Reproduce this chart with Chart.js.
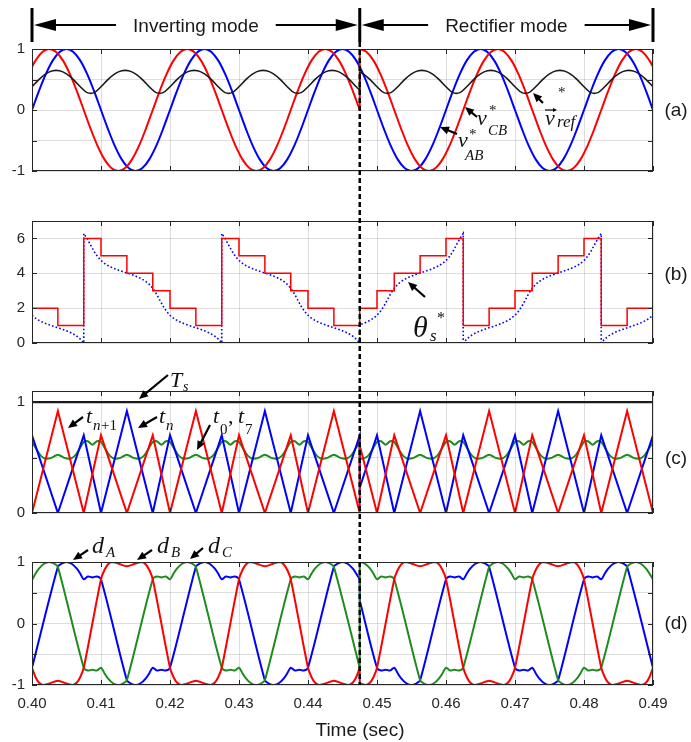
<!DOCTYPE html>
<html><head><meta charset="utf-8">
<script src="https://cdn.jsdelivr.net/npm/chart.js@4.4.1/dist/chart.umd.min.js"></script>
<style>
html,body{margin:0;padding:0;background:#fff}
#wrap{position:relative;width:691px;height:742px;overflow:hidden;background:#fff}
canvas{position:absolute;left:0}
#ov{position:absolute;left:0;top:0;z-index:5}
</style></head><body><div id="wrap">
<canvas id="cA" width="691" height="142" style="top:39px;width:691px;height:142px"></canvas>
<canvas id="cB" width="691" height="142" style="top:210px;width:691px;height:142px"></canvas>
<canvas id="cC" width="691" height="142" style="top:381px;width:691px;height:142px"></canvas>
<canvas id="cD" width="691" height="178" style="top:552px;width:691px;height:178px"></canvas>
<svg id="ov" width="691" height="742" xmlns="http://www.w3.org/2000/svg"></svg>
</div>
<script>
// ---------- axis ticks (time in ms after 0.40 s) ----------
const xTickVals = [0,10,20,30,40,50,60,70,80,90];
const xTickLabels = ['0.40','0.41','0.42','0.43','0.44','0.45','0.46','0.47','0.48','0.49'];
const switchMs = 47.5;
const aYTicks = [-1,-0.5,0,0.5,1], aYLabels = [-1,0,1];
const bYTicks = [0,2,4,6],        bYLabels = [0,2,4,6];
const cYTicks = [0,0.5,1],        cYLabels = [0,1];
const dYTicks = [-1,-0.5,0,0.5,1], dYLabels = [-1,0,1];

// ---------- panel (a) ----------
const aBlueT = [0,1,2,3,4,5,6,7,8,9,10,11,12,13,14,15,16,17,18,19,20,21,22,23,24,25,26,27,28,29,30,31,32,33,34,35,36,37,38,39,40,41,42,43,44,45,46,47,48,49,50,51,52,53,54,55,56,57,58,59,60,61,62,63,64,65,66,67,68,69,70,71,72,73,74,75,76,77,78,79,80,81,82,83,84,85,86,87,88,89,90];
const aBlueV = [0,.309,.588,.809,.951,1,.951,.809,.588,.309,0,-.309,-.588,-.809,-.951,-1,-.951,-.809,-.588,-.309,
 0,.309,.588,.809,.951,1,.951,.809,.588,.309,0,-.309,-.588,-.809,-.951,-1,-.951,-.809,-.588,-.309,
 0,.309,.588,.809,.951,1,.951,.809,.588,.309,0,-.309,-.588,-.809,-.951,-1,-.951,-.809,-.588,-.309,
 0,.309,.588,.809,.951,1,.951,.809,.588,.309,0,-.309,-.588,-.809,-.951,-1,-.951,-.809,-.588,-.309,
 0,.309,.588,.809,.951,1,.951,.809,.588,.309,0];
const aRedT = [0,0.5,1.5,2.5,3.5,4.5,5.5,6.5,7.5,8.5,9.5,10.5,11.5,12.5,13.5,14.5,15.5,16.5,17.5,18.5,19.5,20.5,21.5,22.5,23.5,24.5,25.5,26.5,27.5,28.5,29.5,30.5,31.5,32.5,33.5,34.5,35.5,36.5,37.5,38.5,39.5,40.5,41.5,42.5,43.5,44.5,45.5,46.5,47.5,
 47.5,48.5,49.5,50.5,51.5,52.5,53.5,54.5,55.5,56.5,57.5,58.5,59.5,60.5,61.5,62.5,63.5,64.5,65.5,66.5,67.5,68.5,69.5,70.5,71.5,72.5,73.5,74.5,75.5,76.5,77.5,78.5,79.5,80.5,81.5,82.5,83.5,84.5,85.5,86.5,87.5,88.5,89.5,90];
const aRedV = [.707,
 .809,.951,1,.951,.809,.588,.309,0,-.309,-.588,-.809,-.951,-1,-.951,-.809,-.588,-.309,0,.309,.588,
 .809,.951,1,.951,.809,.588,.309,0,-.309,-.588,-.809,-.951,-1,-.951,-.809,-.588,-.309,0,.309,.588,
 .809,.951,1,.951,.809,.588,.309,0,
 1,.951,.809,.588,.309,0,-.309,-.588,-.809,-.951,-1,-.951,-.809,-.588,-.309,0,.309,.588,.809,.951,
 1,.951,.809,.588,.309,0,-.309,-.588,-.809,-.951,-1,-.951,-.809,-.588,-.309,0,.309,.588,.809,.951,
 1,.951,.809,.707];
const aBlackT = [0,1,2,3,4,5,6,7,8,9,10,11,12,13,14,15,16,17,18,19,20,21,22,23,24,25,26,27,28,29,30,31,32,33,34,35,36,37,38,39,40,41,42,43,44,45,46,47,47.5,
 47.5,48,49,50,51,52,53,54,55,56,57,58,59,60,61,62,63,64,65,66,67,68,69,70,71,72,73,74,75,76,77,78,79,80,81,82,83,84,85,86,87,88,89,90];
const aBlackV = [.381,.498,.592,.643,.643,.592,.498,.381,.285,.285,
 .381,.498,.592,.643,.643,.592,.498,.381,.285,.285,
 .381,.498,.592,.643,.643,.592,.498,.381,.285,.285,
 .381,.498,.592,.643,.643,.592,.498,.381,.285,.285,
 .381,.498,.592,.643,.643,.592,.498,.381,.326,
 .624,.592,.498,
 .381,.285,.285,.381,.498,.592,.643,.643,.592,.498,
 .381,.285,.285,.381,.498,.592,.643,.643,.592,.498,
 .381,.285,.285,.381,.498,.592,.643,.643,.592,.498,
 .381,.285,.285,.381,.498,.592,.643,.643,.592,.498,
 .381];

// ---------- panel (b) ----------
const bSectorT = [0,0,3.75,7.5,10,13.75,17.5,20,23.75,27.5,30,33.75,37.5,40,43.75,47.5,50,52.5,56.25,60,62.5,66.25,70,72.5,76.25,80,82.5,86.25,90,90];
const bSectorV = [3,2,1,6,5,4,3,2,1,6,5,4,3,2,1,2,3,4,5,6,1,2,3,4,5,6,1,2,2,3];
const bThetaT = [0,0.5,1,1.5,2,2.5,3,3.5,4,4.5,5,5.5,6,6.5,7,7.5,
 7.5,8,8.5,9,9.5,10,10.5,11,11.5,12,12.5,13,13.5,14,14.5,15,15.5,16,16.5,17,17.5,18,18.5,19,19.5,20,20.5,21,21.5,22,22.5,23,23.5,24,24.5,25,25.5,26,26.5,27,27.5,
 27.5,28,28.5,29,29.5,30,30.5,31,31.5,32,32.5,33,33.5,34,34.5,35,35.5,36,36.5,37,37.5,38,38.5,39,39.5,40,40.5,41,41.5,42,42.5,43,43.5,44,44.5,45,45.5,46,46.5,47,47.5,
 47.5,48,48.5,49,49.5,50,50.5,51,51.5,52,52.5,53,53.5,54,54.5,55,55.5,56,56.5,57,57.5,58,58.5,59,59.5,60,60.5,61,61.5,62,62.5,
 62.5,63,63.5,64,64.5,65,65.5,66,66.5,67,67.5,68,68.5,69,69.5,70,70.5,71,71.5,72,72.5,73,73.5,74,74.5,75,75.5,76,76.5,77,77.5,78,78.5,79,79.5,80,80.5,81,81.5,82,82.5,
 82.5,83,83.5,84,84.5,85,85.5,86,86.5,87,87.5,88,88.5,89,89.5,90];
const bThetaV = [1.591,1.426,1.301,1.200,1.116,1.041,0.973,0.907,0.841,0.773,0.698,0.614,0.513,0.388,0.223,0,
 6.283,5.984,5.619,5.255,4.956,4.733,4.568,4.442,4.342,4.257,4.183,4.114,4.049,3.983,3.914,3.840,3.756,3.655,3.529,3.365,3.142,2.842,2.478,2.114,1.814,1.591,1.426,1.301,1.200,1.116,1.041,0.973,0.907,0.841,0.773,0.698,0.614,0.513,0.388,0.223,0,
 6.283,5.984,5.619,5.255,4.956,4.733,4.568,4.442,4.342,4.257,4.183,4.114,4.049,3.983,3.914,3.840,3.756,3.655,3.529,3.365,3.142,2.842,2.478,2.114,1.814,1.591,1.426,1.301,1.200,1.116,1.041,0.973,0.907,0.841,0.773,0.698,0.614,0.513,0.388,0.223,0,
 1.041,1.116,1.200,1.301,1.426,1.591,1.814,2.114,2.478,2.842,3.142,3.365,3.529,3.655,3.756,3.840,3.914,3.983,4.049,4.114,4.183,4.257,4.342,4.442,4.568,4.733,4.956,5.255,5.619,5.984,6.283,
 0,0.223,0.388,0.513,0.614,0.698,0.773,0.841,0.907,0.973,1.041,1.116,1.200,1.301,1.426,1.591,1.814,2.114,2.478,2.842,3.142,3.365,3.529,3.655,3.756,3.840,3.914,3.983,4.049,4.114,4.183,4.257,4.342,4.442,4.568,4.733,4.956,5.255,5.619,5.984,6.283,
 0,0.223,0.388,0.513,0.614,0.698,0.773,0.841,0.907,0.973,1.041,1.116,1.200,1.301,1.426,1.591];

// ---------- panel (c) ----------
const cTsT = [0,90], cTsV = [1,1];
const cTriT = [0,3.75,7.5,10,13.75,17.5,20,23.75,27.5,30,33.75,37.5,40,43.75,47.5,47.5,50,52.5,56.25,60,62.5,66.25,70,72.5,76.25,80,82.5,86.25,90];
const cRedV  = [0,.92,0,.70,0,.70,0,.92,0,.70,0,.70,0,.92,0, .61,0,.70,0,.70,0,.92,0,.70,0,.70,0,.92,0];
const cBlueV = [.70,0,.70,0,.92,0,.70,0,.70,0,.92,0,.70,0,.70, .23,.70,0,.92,0,.70,0,.70,0,.92,0,.70,0,.70];
const cGreenT = [0,0.7,1.3,2,2.8,3.75,4.7,5.5,6.2,6.8,
 7.5,8.1,8.75,9.4,10,10.7,11.3,12,12.8,13.75,14.7,15.5,16.2,16.8,
 17.5,18.1,18.75,19.4,20,20.7,21.3,22,22.8,23.75,24.7,25.5,26.2,26.8,
 27.5,28.1,28.75,29.4,30,30.7,31.3,32,32.8,33.75,34.7,35.5,36.2,36.8,
 37.5,38.1,38.75,39.4,40,40.7,41.3,42,42.8,43.75,44.7,45.5,46.2,46.8,47.5,
 47.5,48,48.7,49.3,
 50,50.6,51.25,51.9,52.5,53.2,53.8,54.5,55.3,56.25,57.2,58,58.7,59.3,
 60,60.6,61.25,61.9,62.5,63.2,63.8,64.5,65.3,66.25,67.2,68,68.7,69.3,
 70,70.6,71.25,71.9,72.5,73.2,73.8,74.5,75.3,76.25,77.2,78,78.7,79.3,
 80,80.6,81.25,81.9,82.5,83.2,83.8,84.5,85.3,86.25,87.2,88,88.7,89.3,90];
const cGreenV = [.64,.57,.515,.49,.497,.525,.497,.49,.515,.57,
 .64,.647,.615,.647,.64,.57,.515,.49,.497,.525,.497,.49,.515,.57,
 .64,.647,.615,.647,.64,.57,.515,.49,.497,.525,.497,.49,.515,.57,
 .64,.647,.615,.647,.64,.57,.515,.49,.497,.525,.497,.49,.515,.57,
 .64,.647,.615,.647,.64,.57,.515,.49,.497,.525,.497,.49,.515,.57,.64,
 .494,.49,.515,.57,
 .64,.647,.615,.647,.64,.57,.515,.49,.497,.525,.497,.49,.515,.57,
 .64,.647,.615,.647,.64,.57,.515,.49,.497,.525,.497,.49,.515,.57,
 .64,.647,.615,.647,.64,.57,.515,.49,.497,.525,.497,.49,.515,.57,
 .64,.647,.615,.647,.64,.57,.515,.49,.497,.525,.497,.49,.515,.57,.64];

// ---------- panel (d) ----------
const dAT = [0,3.75,4.25,5,5.75,6.5,7,7.5,8.1,8.75,9.4,10,13.75,14.25,15,15.75,16.5,17,17.5,18.1,18.75,19.4,20,
 23.75,24.25,25,25.75,26.5,27,27.5,28.1,28.75,29.4,30,33.75,34.25,35,35.75,36.5,37,37.5,38.1,38.75,39.4,40,
 43.75,44.25,45,45.75,46.5,47,47.5,
 47.5,50,50.6,51.25,51.9,52.5,53,53.5,54.25,55,55.75,56.25,60,60.6,61.25,61.9,62.5,63,63.5,64.25,65,65.75,66.25,
 70,70.6,71.25,71.9,72.5,73,73.5,74.25,75,75.75,76.25,80,80.6,81.25,81.9,82.5,83,83.5,84.25,85,85.75,86.25,90];
const dAV = [-.72,.924,.972,1,.972,.891,.809,.72,.765,.75,.765,.72,-.924,-.972,-1,-.972,-.891,-.809,-.72,-.765,-.75,-.765,-.72,
 .924,.972,1,.972,.891,.809,.72,.765,.75,.765,.72,-.924,-.972,-1,-.972,-.891,-.809,-.72,-.765,-.75,-.765,-.72,
 .924,.972,1,.972,.891,.809,.72,
 .376,-.72,-.765,-.75,-.765,-.72,-.809,-.891,-.972,-1,-.972,-.924,.72,.765,.75,.765,.72,.809,.891,.972,1,.972,.924,
 -.72,-.765,-.75,-.765,-.72,-.809,-.891,-.972,-1,-.972,-.924,.72,.765,.75,.765,.72,.809,.891,.972,1,.972,.924,-.72];
const dBT = [0,0.5,1,1.6,2.5,3.75,5,5.9,6.5,7,7.5, 10,10.5,11,11.6,12.5,13.75,15,15.9,16.5,17,17.5,
 20,20.5,21,21.6,22.5,23.75,25,25.9,26.5,27,27.5, 30,30.5,31,31.6,32.5,33.75,35,35.9,36.5,37,37.5,
 40,40.5,41,41.6,42.5,43.75,45,45.9,46.5,47,47.5,
 47.5,48.4,49,49.5,50, 52.5,53,53.5,54.1,55,56.25,57.5,58.4,59,59.5,60,
 62.5,63,63.5,64.1,65,66.25,67.5,68.4,69,69.5,70, 72.5,73,73.5,74.1,75,76.25,77.5,78.4,79,79.5,80,
 82.5,83,83.5,84.1,85,86.25,87.5,88.4,89,89.5,90];
const dBV = [-.72,-.87,-.96,-1,-.975,-.93,-.975,-1,-.96,-.87,-.72, .72,.87,.96,1,.975,.93,.975,1,.96,.87,.72,
 -.72,-.87,-.96,-1,-.975,-.93,-.975,-1,-.96,-.87,-.72, .72,.87,.96,1,.975,.93,.975,1,.96,.87,.72,
 -.72,-.87,-.96,-1,-.975,-.93,-.975,-1,-.96,-.87,-.72,
 -.975,-1,-.96,-.87,-.72, .72,.87,.96,1,.975,.93,.975,1,.96,.87,.72,
 -.72,-.87,-.96,-1,-.975,-.93,-.975,-1,-.96,-.87,-.72, .72,.87,.96,1,.975,.93,.975,1,.96,.87,.72,
 -.72,-.87,-.96,-1,-.975,-.93,-.975,-1,-.96,-.87,-.72];
const dCT = [0,0.5,1,1.75,2.5,3.25,3.75, 7.5,8.1,8.75,9.4,10,10.5,11,11.75,12.5,13.25,13.75,
 17.5,18.1,18.75,19.4,20,20.5,21,21.75,22.5,23.25,23.75, 27.5,28.1,28.75,29.4,30,30.5,31,31.75,32.5,33.25,33.75,
 37.5,38.1,38.75,39.4,40,40.5,41,41.75,42.5,43.25,43.75, 47.5,
 47.5,48,48.5,49,49.5,50,50.6,51.25,51.9,52.5, 56.25,56.75,57.5,58.25,59,59.5,60,60.6,61.25,61.9,62.5,
 66.25,66.75,67.5,68.25,69,69.5,70,70.6,71.25,71.9,72.5, 76.25,76.75,77.5,78.25,79,79.5,80,80.6,81.25,81.9,82.5,
 86.25,86.75,87.5,88.25,89,89.5,90];
const dCV = [.707,.809,.891,.972,1,.972,.924, -.72,-.765,-.75,-.765,-.72,-.809,-.891,-.972,-1,-.972,-.924,
 .72,.765,.75,.765,.72,.809,.891,.972,1,.972,.924, -.72,-.765,-.75,-.765,-.72,-.809,-.891,-.972,-1,-.972,-.924,
 .72,.765,.75,.765,.72,.809,.891,.972,1,.972,.924, -.72,
 1,.988,.951,.891,.809,.72,.765,.75,.765,.72, -.924,-.972,-1,-.972,-.891,-.809,-.72,-.765,-.75,-.765,-.72,
 .924,.972,1,.972,.891,.809,.72,.765,.75,.765,.72, -.924,-.972,-1,-.972,-.891,-.809,-.72,-.765,-.75,-.765,-.72,
 .924,.972,1,.972,.891,.809,.72];

// ---------- helpers ----------
const RED='#ff0000', BLUE='#0000ff', GREEN='#1d8c1d', BLACK='#1a1a1a', GRID='rgba(0,0,0,0.13)';
function pts(T,V){ return T.map((t,i)=>({x:t,y:V[i]})); }
function segs(T,V){ const out=[]; let cur=[]; for(let i=0;i<T.length;i++){ if(i>0&&T[i]===T[i-1]){out.push(cur);cur=[];} cur.push({x:T[i],y:V[i]}); } out.push(cur); return out; }
// smooth pieces plus straight vertical joins at the mode switch
function lines(T,V,style){
  const s=segs(T,V), out=s.map(d=>Object.assign({data:d},style));
  for(let i=1;i<s.length;i++){ const p=s[i-1][s[i-1].length-1], q=s[i][0];
    out.unshift(Object.assign({},style,{tension:0,data:[{x:p.x,y:p.y},{x:q.x,y:q.y}]})); }
  return out;
}

Chart.defaults.font.family = '"Liberation Sans", Arial, sans-serif';
Chart.defaults.font.size = 15;
Chart.defaults.color = '#262626';

const boxPlugin = { id:'mbox', afterDatasetsDraw(chart){
  const {ctx, chartArea:a, scales:{x,y}} = chart;
  ctx.save(); ctx.strokeStyle='#262626'; ctx.lineWidth=1;
  ctx.strokeRect(a.left+0.5, a.top+0.5, a.right-a.left-1, a.bottom-a.top-1);
  ctx.beginPath();
  x.ticks.forEach(t=>{ const p=Math.round(x.getPixelForValue(t.value))+0.5; ctx.moveTo(p,a.top); ctx.lineTo(p,a.top+5); ctx.moveTo(p,a.bottom); ctx.lineTo(p,a.bottom-5); });
  y.ticks.forEach(t=>{ const p=Math.round(y.getPixelForValue(t.value))+0.5; ctx.moveTo(a.left,p); ctx.lineTo(a.left+5,p); ctx.moveTo(a.right,p); ctx.lineTo(a.right-5,p); });
  ctx.stroke(); ctx.restore();
}};

function opts(yMin,yMax,yTicks,yLabels,bottom){
  return {
    responsive:false, maintainAspectRatio:false, animation:false, devicePixelRatio:1,
    layout:{padding:{left:0,right:38,top:10,bottom:bottom?0:10}},
    plugins:{legend:{display:false},tooltip:{enabled:false}},
    elements:{point:{radius:0}},
    scales:{
      x:{type:'linear',min:0,max:90,grid:{color:GRID,drawTicks:false},border:{display:false},
         afterBuildTicks:s=>{s.ticks=xTickVals.map(v=>({value:v}));},
         ticks:{display:bottom,padding:10,autoSkip:false,maxRotation:0,callback:(v)=>xTickLabels[xTickVals.indexOf(v)]},
         afterFit:s=>{s.height=bottom?45:0;}},
      y:{type:'linear',min:yMin,max:yMax,grid:{color:GRID,drawTicks:false},border:{display:false},
         afterBuildTicks:s=>{s.ticks=yTicks.map(v=>({value:v}));},
         ticks:{padding:7,autoSkip:false,callback:(v)=>yLabels.includes(v)?String(v):''},
         afterFit:s=>{s.width=32;}}
    }
  };
}
const L = (c,w,extra)=>Object.assign({borderColor:c,borderWidth:w,pointRadius:0,fill:false},extra||{});

const cvA=document.getElementById('cA'), cvB=document.getElementById('cB'), cvC=document.getElementById('cC'), cvD=document.getElementById('cD');
const chA = new Chart(cvA,{type:'line',plugins:[boxPlugin],
  data:{datasets:[
    ...lines(aBlackT,aBlackV,L(BLACK,1.6,{tension:0.35})),
    ...lines(aRedT,aRedV,L(RED,2,{tension:0.35})),
    ...lines(aBlueT,aBlueV,L(BLUE,2,{tension:0.35}))
  ]}, options:opts(-1,1,aYTicks,aYLabels,false)});

const chB = new Chart(cvB,{type:'line',plugins:[boxPlugin],
  data:{datasets:[
    {data:pts(bSectorT,bSectorV),...L(RED,1.5,{stepped:'before',tension:0})},
    {data:pts(bThetaT,bThetaV),...L(BLUE,1.6,{tension:0,borderDash:[1.6,2.2]})}
  ]}, options:opts(0,7,bYTicks,bYLabels,false)});

const chC = new Chart(cvC,{type:'line',plugins:[boxPlugin],
  data:{datasets:[
    {data:pts(cTsT,cTsV),...L(BLACK,2.2,{tension:0})},
    {data:pts(cTriT,cRedV),...L(RED,2,{tension:0})},
    {data:pts(cTriT,cBlueV),...L(BLUE,2,{tension:0})},
    ...lines(cGreenT,cGreenV,L(GREEN,2,{tension:0.3}))
  ]}, options:opts(0,1.1,cYTicks,cYLabels,false)});

const chD = new Chart(cvD,{type:'line',plugins:[boxPlugin],
  data:{datasets:[
    ...lines(dBT,dBV,L(RED,2,{tension:0.3})),
    ...lines(dCT,dCV,L(GREEN,2,{tension:0.3})),
    ...lines(dAT,dAV,L(BLUE,2,{tension:0.3}))
  ]}, options:opts(-1,1,dYTicks,dYLabels,true)});

// place each plot box at its target position/size
function place(chart, canvas, top, h){
  for(let k=0;k<3;k++){
    const a=chart.chartArea, cur=a.bottom-a.top;
    if(Math.abs(cur-h)<0.5) break;
    chart.resize(691, Math.round(canvas.height + (h-cur)));
  }
  canvas.style.top = (top - chart.chartArea.top) + 'px';
}
place(chA,cvA,49,122); place(chB,cvB,221,122); place(chC,cvC,391,122); place(chD,cvD,562,123);

// ---------- overlay: header, dashed divider, annotations ----------
const NS='http://www.w3.org/2000/svg', ov=document.getElementById('ov');
function el(tag,attrs,text){ const e=document.createElementNS(NS,tag); for(const k in attrs) e.setAttribute(k,attrs[k]); if(text!=null) e.textContent=text; ov.appendChild(e); return e; }
function arrow(x1,y1,x2,y2,hl,hw,sw){ const dx=x2-x1,dy=y2-y1,Ln=Math.hypot(dx,dy),ux=dx/Ln,uy=dy/Ln; const bx=x2-ux*hl,by=y2-uy*hl;
  el('line',{x1:x1,y1:y1,x2:bx+ux,y2:by+uy,stroke:'#000','stroke-width':sw});
  el('polygon',{points:`${x2},${y2} ${bx-uy*hw},${by+ux*hw} ${bx+uy*hw},${by-ux*hw}`,fill:'#000'}); }
const SANS='"Liberation Sans", Arial, sans-serif', SERIF='"Liberation Serif", "Times New Roman", serif';
function sans(x,y,s,size,anchor){ return el('text',{x:x,y:y,'font-family':SANS,'font-size':size,'text-anchor':anchor||'start',fill:'#1a1a1a'},s); }
function mi(x,y,s,size,italic){ return el('text',{x:x,y:y,'font-family':SERIF,'font-size':size,'font-style':italic===false?'normal':'italic',fill:'#111'},s); }

const X = v => chD.scales.x.getPixelForValue(v);
const X0=X(0), X1=X(switchMs), X2=X(90);
const bottomD = parseFloat(cvD.style.top) + chD.chartArea.bottom;

[X0,X1,X2].forEach(x=>el('line',{x1:x,y1:8,x2:x,y2:42,stroke:'#000','stroke-width':3}));
const t1 = sans((X0+X1)/2,31.5,'Inverting mode',19,'middle');
const t2 = sans((X1+X2)/2,31.5,'Rectifier mode',19,'middle');
const b1=t1.getBBox(), b2=t2.getBBox();
arrow(b1.x-17,25,X0+2,25,22,6,2); arrow(b1.x+b1.width+17,25,X1-2,25,22,6,2);
arrow(b2.x-17,25,X1+2,25,22,6,2); arrow(b2.x+b2.width+17,25,X2-2,25,22,6,2);

el('line',{x1:X1,y1:42,x2:X1,y2:bottomD,stroke:'#000','stroke-width':2.5,'stroke-dasharray':'5 3'});

sans(676,116,'(a)',19,'middle'); sans(676,280,'(b)',19,'middle');
sans(676,464,'(c)',19,'middle'); sans(676,629,'(d)',19,'middle');
sans(360,736,'Time (sec)',19,'middle');

// (a) labels
arrow(477,117,465,107,9,4,2.2); mi(477,125,'v',22); mi(489,115,'*',15,false); mi(488,135,'CB',15);
arrow(457,134,440,127,9,4,2.2); mi(458,147,'v',22); mi(469,139,'*',15,false); mi(465,160,'AB',15);
arrow(543,103,533,93,9,4,2.2); mi(545,125,'v',22); arrow(545,110,557,110,4,2,1.2); mi(558,97,'*',15,false); mi(557,127,'ref',17);
// (b) label
arrow(425,297,408,282,9,4,2.2); mi(413,337,'θ',30); mi(437,323,'*',16,false); mi(430,341,'s',17);
// (c) labels
arrow(168,375,139,399,9,4,2.2); mi(170,387,'T',22); mi(183,391,'s',14);
arrow(83,417,68,428,9,4,2.2); mi(86,423,'t',22); mi(93,430,'n',15); mi(101,430,'+1',15,false);
arrow(157,417,138,428,9,4,2.2); mi(159,423,'t',22); mi(166,430,'n',15);
arrow(210,425,197,450,9,4,2.2); mi(213,423,'t',22); mi(220,434,'0',15,false); mi(228,423,',',22,false); mi(238,423,'t',22); mi(245,434,'7',15,false);
// (d) labels
arrow(88,550,73,560,9,4,2.2); mi(92,553,'d',24); mi(106,557,'A',15);
arrow(152,550,137,560,9,4,2.2); mi(157,553,'d',24); mi(171,557,'B',15);
arrow(203,548,190,559,9,4,2.2); mi(208,553,'d',24); mi(222,557,'C',15);
</script>
</body></html>
